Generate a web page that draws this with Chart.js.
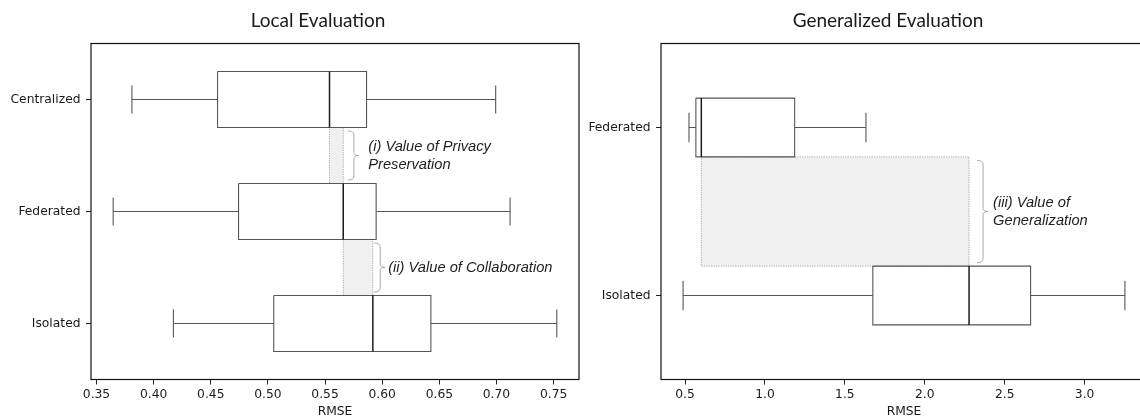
<!DOCTYPE html>
<html>
<head>
<meta charset="utf-8">
<script src="https://cdn.jsdelivr.net/npm/chart.js@4.4.1/dist/chart.umd.min.js"></script>
<style>
  html, body { margin: 0; padding: 0; background: #ffffff; width: 1140px; height: 419px; overflow: hidden; position: relative; }
  canvas { position: absolute; top: 0; }
  #localChart { left: 0px; }
  #genChart { left: 560px; }
</style>
</head>
<body>
<canvas id="localChart" width="600" height="419"></canvas>
<canvas id="genChart" width="600" height="419"></canvas>
<script>
// ---------------- DATA ----------------
const localCategories = ['Centralized', 'Federated', 'Isolated'];
const localMin    = [0.3810, 0.3646, 0.4173];
const localQ1     = [0.4559, 0.4743, 0.5051];
const localMedian = [0.5539, 0.5659, 0.5918];
const localQ3     = [0.5863, 0.5947, 0.6426];
const localMax    = [0.6993, 0.7119, 0.7528];
const localTicks  = [0.35, 0.40, 0.45, 0.50, 0.55, 0.60, 0.65, 0.70, 0.75];

const genCategories = ['Federated', 'Isolated'];
const genMin    = [0.525, 0.488];
const genQ1     = [0.568, 1.675];
const genMedian = [0.602, 2.277];
const genQ3     = [1.186, 2.662];
const genMax    = [1.632, 3.252];
const genTicks  = [0.5, 1.0, 1.5, 2.0, 2.5, 3.0];

// comparisons: pairs of category indices whose medians are shaded
const localPairs = [[0, 1], [1, 2]];
const genPairs   = [[0, 1]];
// annotation anchors (RMSE units) and texts
const localNoteBracketX = [0.5700, 0.5930];
const localNoteTextX    = [0.5878, 0.6052];
const localNoteLines    = [['(i) Value of Privacy', 'Preservation'], ['(ii) Value of Collaboration']];
const genNoteBracketX = [2.327];
const genNoteTextX    = [2.427];
const genNoteLines    = [['(iii) Value of', 'Generalization']];

// ---------------- STYLE ----------------
const BOX_COLOR = '#555555';
const MEDIAN_COLOR = '#1c1c1c';
const SHADE_FILL = '#f0f0f0';
const SHADE_EDGE = '#9c9c9c';
const TEXT_COLOR = '#1a1a1a';
const TICK_FONT = { family: '"DejaVu Sans", sans-serif', size: 12.3 };

function gap() { return { x: null, y: null }; }

function buildDatasets(mins, q1s, meds, q3s, maxs, pairs, half) {
  const cap = half / 2;
  const whiskers = [], caps = [], boxes = [], medians = [];
  mins.forEach((_, i) => {
    whiskers.push({ x: mins[i], y: i }, { x: q1s[i], y: i }, gap(),
                  { x: q3s[i], y: i }, { x: maxs[i], y: i }, gap());
    caps.push({ x: mins[i], y: i - cap }, { x: mins[i], y: i + cap }, gap(),
              { x: maxs[i], y: i - cap }, { x: maxs[i], y: i + cap }, gap());
    boxes.push({ x: q1s[i], y: i - half }, { x: q3s[i], y: i - half },
               { x: q3s[i], y: i + half }, { x: q1s[i], y: i + half },
               { x: q1s[i], y: i - half }, gap());
    medians.push({ x: meds[i], y: i - half }, { x: meds[i], y: i + half }, gap());
  });
  const base = { pointRadius: 0, pointHoverRadius: 0, tension: 0, spanGaps: false, fill: false,
                 borderCapStyle: 'butt', borderJoinStyle: 'miter' };
  const sets = [
    Object.assign({}, base, { label: 'medians', data: medians, borderColor: MEDIAN_COLOR, borderWidth: 1.5, order: 1 }),
    Object.assign({}, base, { label: 'boxes', data: boxes, borderColor: BOX_COLOR, borderWidth: 1.1, order: 2 }),
    Object.assign({}, base, { label: 'caps', data: caps, borderColor: BOX_COLOR, borderWidth: 1.1, order: 3 }),
    Object.assign({}, base, { label: 'whiskers', data: whiskers, borderColor: BOX_COLOR, borderWidth: 1.1, order: 4 }),
  ];
  pairs.forEach(([a, b], k) => {
    const lo = meds[a], hi = meds[b];
    sets.push(Object.assign({}, base, {
      label: 'shade' + k,
      data: [{ x: lo, y: a + half }, { x: hi, y: a + half }, { x: hi, y: b - half },
             { x: lo, y: b - half }, { x: lo, y: a + half }],
      fill: 'shape', backgroundColor: SHADE_FILL, borderColor: SHADE_EDGE,
      borderWidth: 0.9, borderDash: [1.2, 1.2], order: 10 + k
    }));
  });
  return sets;
}

function framePlugin() {
  return {
    id: 'frame',
    afterDatasetsDraw(chart) {
      const { ctx, chartArea: a } = chart;
      ctx.save();
      ctx.strokeStyle = '#111111';
      ctx.lineWidth = 1.2;
      ctx.strokeRect(a.left, a.top, a.right - a.left, a.bottom - a.top);
      ctx.restore();
    }
  };
}

function headingPlugin(text, centerX) {
  return {
    id: 'heading',
    afterDraw(chart) {
      const { ctx } = chart;
      ctx.save();
      ctx.fillStyle = TEXT_COLOR;
      ctx.font = '19px Lato, "Open Sans", sans-serif';
      ctx.textAlign = 'center';
      ctx.textBaseline = 'alphabetic';
      ctx.fillText(text, centerX, 27);
      ctx.restore();
    }
  };
}

function notesPlugin(meds, pairs, half, bracketXs, textXs, lines) {
  return {
    id: 'notes',
    afterDatasetsDraw(chart) {
      const { ctx } = chart;
      const xs = chart.scales.x, ys = chart.scales.y;
      ctx.save();
      pairs.forEach(([a, b], k) => {
        const x0 = xs.getPixelForValue(bracketXs[k]);
        const top = ys.getPixelForValue(a + half) + 3.5;
        const bot = ys.getPixelForValue(b - half) - 3.5;
        const mid = (top + bot) / 2;
        const x1 = x0 + 6;
        ctx.strokeStyle = '#a8a8a8';
        ctx.lineWidth = 1;
        ctx.beginPath();
        ctx.moveTo(x0, top);
        ctx.quadraticCurveTo(x1, top, x1, top + 4);
        ctx.lineTo(x1, mid - 3);
        ctx.quadraticCurveTo(x1, mid, x1 + 5, mid);
        ctx.moveTo(x1 + 5, mid);
        ctx.quadraticCurveTo(x1, mid, x1, mid + 3);
        ctx.lineTo(x1, bot - 4);
        ctx.quadraticCurveTo(x1, bot, x0, bot);
        ctx.stroke();
        const tx = xs.getPixelForValue(textXs[k]);
        const ls = lines[k];
        const lh = 17.5;
        ctx.fillStyle = '#1e1e1e';
        ctx.font = 'italic 14.7px "Liberation Sans", Arial, sans-serif';
        ctx.textAlign = 'left';
        ctx.textBaseline = 'middle';
        ls.forEach((t, j) => {
          ctx.fillText(t, tx, mid + (j - (ls.length - 1) / 2) * lh + 0.5);
        });
      });
      ctx.restore();
    }
  };
}

function makeChart(id, cfg) {
  const { cats, mins, q1s, meds, q3s, maxs, ticks, decimals, pairs, half, title, titleX,
          pad, yWidth, notes } = cfg;
  const lo = Math.min(...mins), hi = Math.max(...maxs), r = hi - lo;
  return new Chart(document.getElementById(id), {
    type: 'line',
    data: { datasets: buildDatasets(mins, q1s, meds, q3s, maxs, pairs, half) },
    options: {
      responsive: false,
      animation: false,
      events: [],
      devicePixelRatio: 1,
      layout: { padding: pad },
      plugins: {
        legend: { display: false },
        tooltip: { enabled: false },
        title: { display: false }
      },
      scales: {
        x: {
          type: 'linear',
          min: lo - 0.05 * r,
          max: hi + 0.05 * r,
          afterBuildTicks: s => { s.ticks = ticks.map(v => ({ value: v })); },
          afterFit: s => { s.height = 39.5; },
          ticks: {
            callback: v => Number(v).toFixed(decimals),
            font: TICK_FONT, color: TEXT_COLOR, padding: 2.5,
            maxRotation: 0, autoSkip: false
          },
          grid: { drawOnChartArea: false, drawTicks: true, tickLength: 5, color: '#222222', lineWidth: 1 },
          border: { display: false },
          title: { display: true, text: 'RMSE', color: TEXT_COLOR, font: TICK_FONT, padding: { top: 0, bottom: 0 } }
        },
        y: {
          type: 'linear',
          reverse: true,
          min: -0.5,
          max: cats.length - 0.5,
          afterBuildTicks: s => { s.ticks = cats.map((_, i) => ({ value: i })); },
          afterFit: s => { s.width = yWidth; },
          ticks: {
            callback: v => cats[v],
            font: TICK_FONT, color: TEXT_COLOR, padding: 5.5, autoSkip: false
          },
          grid: { drawOnChartArea: false, drawTicks: true, tickLength: 5, color: '#222222', lineWidth: 1 },
          border: { display: false }
        }
      }
    },
    plugins: [framePlugin(), headingPlugin(title, titleX),
              notesPlugin(meds, pairs, half, notes.bx, notes.tx, notes.lines)]
  });
}

makeChart('localChart', {
  cats: localCategories, mins: localMin, q1s: localQ1, meds: localMedian, q3s: localQ3, maxs: localMax,
  ticks: localTicks, decimals: 2, pairs: localPairs, half: 0.25, title: 'Local Evaluation', titleX: 318,
  pad: { left: 0, right: 21, top: 43.5, bottom: 0 }, yWidth: 91,
  notes: { bx: localNoteBracketX, tx: localNoteTextX, lines: localNoteLines }
});

makeChart('genChart', {
  cats: genCategories, mins: genMin, q1s: genQ1, meds: genMedian, q3s: genQ3, maxs: genMax,
  ticks: genTicks, decimals: 1, pairs: genPairs, half: 0.175, title: 'Generalized Evaluation', titleX: 328,
  pad: { left: 0, right: 13, top: 43.5, bottom: 0 }, yWidth: 101,
  notes: { bx: genNoteBracketX, tx: genNoteTextX, lines: genNoteLines }
});
</script>
</body>
</html>
